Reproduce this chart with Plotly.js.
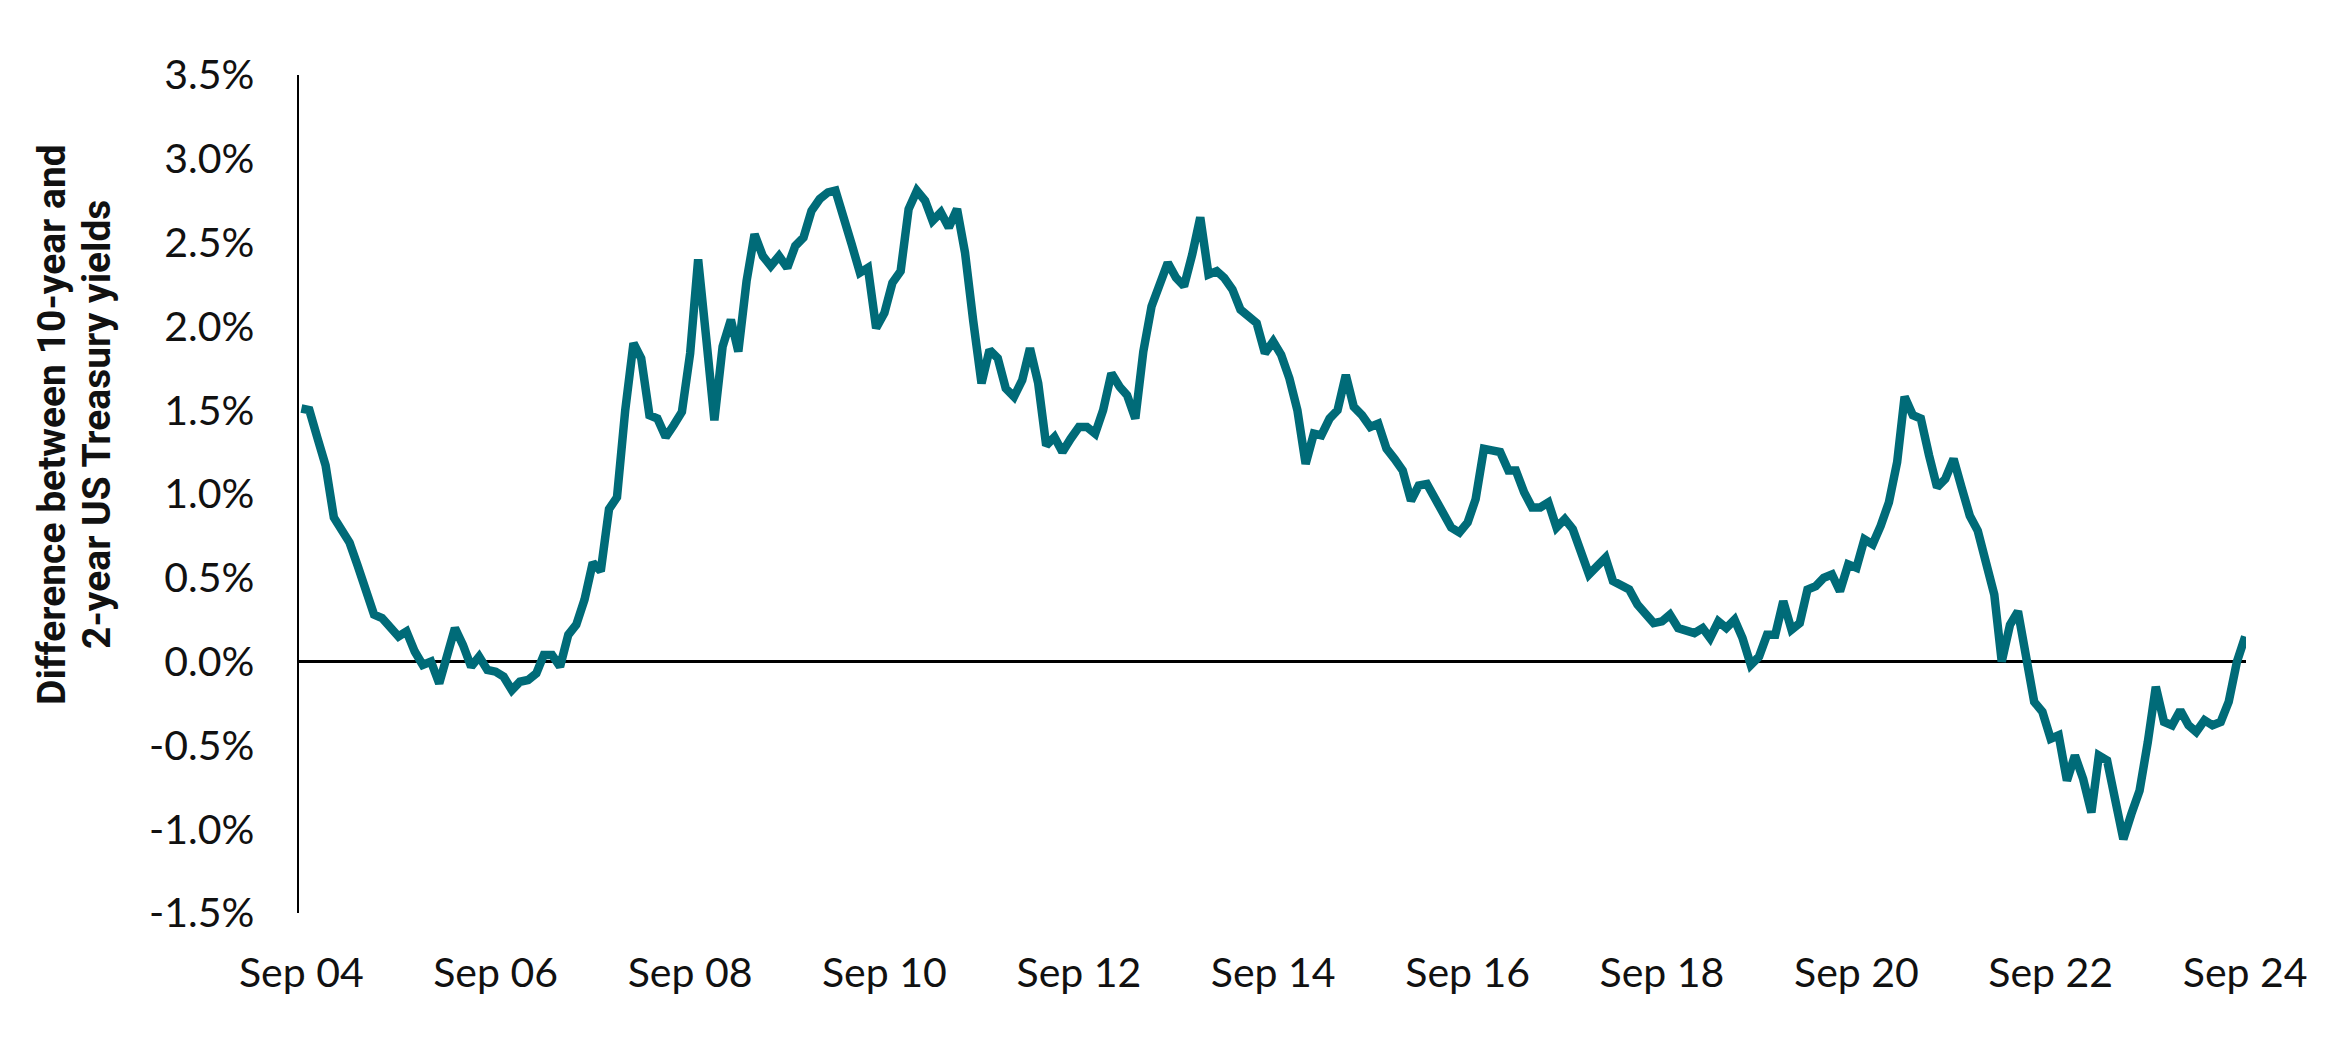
<!DOCTYPE html>
<html>
<head>
<meta charset="utf-8">
<script src="https://cdn.plot.ly/plotly-3.0.1.min.js"></script>
<style>
  html, body { margin: 0; padding: 0; background: #ffffff; }
  #chart { width: 2339px; height: 1050px; }
</style>
</head>
<body>
<div id="chart"></div>
<script>
// Monthly spread (10-year minus 2-year US Treasury yield, %), Sep 2004 .. Sep 2024
const startYear = 2004;
const startMonth = 9;
const spread = [
  // Sep 04 - Aug 05
  1.51, 1.50, 1.33, 1.17, 0.86, 0.78, 0.71, 0.57, 0.42, 0.28, 0.26, 0.20,
  // Sep 05 - Aug 06
  0.15, 0.18, 0.06, -0.02, 0.00, -0.13, 0.03, 0.20, 0.10, -0.03, 0.03, -0.05,
  // Sep 06 - Aug 07
  -0.06, -0.09, -0.17, -0.12, -0.11, -0.07, 0.04, 0.04, -0.03, 0.16, 0.22, 0.37,
  // Sep 07 - Aug 08
  0.59, 0.54, 0.91, 0.98, 1.50, 1.90, 1.81, 1.47, 1.45, 1.34, 1.41, 1.49,
  // Sep 08 - Aug 09
  1.84, 2.40, 1.92, 1.44, 1.88, 2.04, 1.85, 2.27, 2.55, 2.42, 2.36, 2.42,
  // Sep 09 - Aug 10
  2.35, 2.48, 2.53, 2.69, 2.76, 2.80, 2.81, 2.66, 2.49, 2.32, 2.35, 1.99,
  // Sep 10 - Aug 11
  2.08, 2.26, 2.33, 2.70, 2.81, 2.75, 2.63, 2.68, 2.59, 2.70, 2.44, 2.03,
  // Sep 11 - Aug 12
  1.66, 1.86, 1.81, 1.63, 1.58, 1.68, 1.87, 1.66, 1.29, 1.34, 1.25, 1.33,
  // Sep 12 - Aug 13
  1.40, 1.40, 1.36, 1.50, 1.72, 1.64, 1.59, 1.45, 1.85, 2.12, 2.26, 2.38,
  // Sep 13 - Aug 14
  2.29, 2.24, 2.43, 2.65, 2.31, 2.33, 2.29, 2.22, 2.10, 2.06, 2.02, 1.84,
  // Sep 14 - Aug 15
  1.91, 1.83, 1.69, 1.50, 1.18, 1.36, 1.35, 1.45, 1.50, 1.71, 1.52, 1.47,
  // Sep 15 - Aug 16
  1.40, 1.42, 1.27, 1.21, 1.14, 0.96, 1.05, 1.06, 0.97, 0.89, 0.80, 0.77,
  // Sep 16 - Aug 17
  0.83, 0.97, 1.27, 1.26, 1.25, 1.14, 1.14, 1.01, 0.92, 0.92, 0.95, 0.80,
  // Sep 17 - Aug 18
  0.85, 0.79, 0.64, 0.52, 0.57, 0.62, 0.48, 0.46, 0.43, 0.34, 0.29, 0.23,
  // Sep 18 - Aug 19
  0.24, 0.28, 0.20, 0.19, 0.17, 0.20, 0.14, 0.24, 0.20, 0.25, 0.14, -0.02,
  // Sep 19 - Aug 20
  0.03, 0.16, 0.16, 0.36, 0.19, 0.23, 0.43, 0.45, 0.50, 0.52, 0.42, 0.58,
  // Sep 20 - Aug 21
  0.56, 0.73, 0.70, 0.81, 0.95, 1.19, 1.58, 1.47, 1.45, 1.23, 1.04, 1.09,
  // Sep 21 - Aug 22
  1.21, 1.04, 0.87, 0.78, 0.60, 0.40, 0.00, 0.22, 0.30, 0.02, -0.24, -0.30,
  // Sep 22 - Aug 23
  -0.46, -0.44, -0.71, -0.56, -0.70, -0.90, -0.56, -0.59, -0.80, -1.06, -0.91, -0.77,
  // Sep 23 - Sep 24
  -0.48, -0.15, -0.36, -0.38, -0.29, -0.38, -0.42, -0.35, -0.38, -0.36, -0.24, 0.00, 0.15
];

const yTickVals = [-1.5, -1.0, -0.5, 0.0, 0.5, 1.0, 1.5, 2.0, 2.5, 3.0, 3.5];
const yTickText = ['-1.5%', '-1.0%', '-0.5%', '0.0%', '0.5%', '1.0%', '1.5%', '2.0%', '2.5%', '3.0%', '3.5%'];
const xTickVals = ['2004-09-01', '2006-09-01', '2008-09-01', '2010-09-01', '2012-09-01', '2014-09-01',
                   '2016-09-01', '2018-09-01', '2020-09-01', '2022-09-01', '2024-09-01'];
const xTickText = ['Sep 04', 'Sep 06', 'Sep 08', 'Sep 10', 'Sep 12', 'Sep 14',
                   'Sep 16', 'Sep 18', 'Sep 20', 'Sep 22', 'Sep 24'];
const yTitleLines = ['Difference between 10-year and', '2-year US Treasury yields'];

const dates = spread.map((_, i) => {
  const total = (startMonth - 1) + i;
  const y = startYear + Math.floor(total / 12);
  const m = (total % 12) + 1;
  return y + '-' + String(m).padStart(2, '0') + '-01';
});

const tickFont = { family: 'Lato, "Noto Sans", sans-serif', size: 41, color: '#111111' };
const titleFont = { family: '"Liberation Sans Narrow", Roboto, "Noto Sans", sans-serif', size: 39, color: '#111111', weight: 'bold' };

const trace = {
  type: 'scatter',
  mode: 'lines',
  x: dates,
  y: spread,
  line: { color: '#006B78', width: 8.5, shape: 'linear' },
  hoverinfo: 'skip'
};

const titleX = [-0.1269, -0.1038];

const layout = {
  width: 2339,
  height: 1050,
  paper_bgcolor: '#ffffff',
  plot_bgcolor: '#ffffff',
  showlegend: false,
  margin: { l: 299, r: 93, t: 75, b: 137, pad: 0 },
  xaxis: {
    type: 'date',
    range: ['2004-08-23', '2024-09-04'],
    tickmode: 'array',
    tickvals: xTickVals,
    ticktext: xTickText,
    ticks: '',
    showgrid: false,
    zeroline: false,
    showline: false,
    tickfont: tickFont,
    ticklabelstandoff: 32
  },
  yaxis: {
    range: [-1.5, 3.5],
    tickmode: 'array',
    tickvals: yTickVals,
    ticktext: yTickText,
    ticks: '',
    showgrid: false,
    zeroline: true,
    zerolinecolor: '#000000',
    zerolinewidth: 2.5,
    showline: true,
    linecolor: '#000000',
    linewidth: 2.5,
    tickfont: tickFont,
    ticklabelstandoff: 34
  },
  annotations: yTitleLines.map((t, i) => ({
    xref: 'paper', yref: 'paper',
    x: titleX[i], y: 0.5835,
    xanchor: 'center', yanchor: 'middle',
    textangle: -90,
    showarrow: false,
    align: 'center',
    text: '<b>' + t + '</b>',
    font: titleFont
  }))
};

Plotly.newPlot('chart', [trace], layout, { displayModeBar: false, staticPlot: true });
</script>
</body>
</html>
